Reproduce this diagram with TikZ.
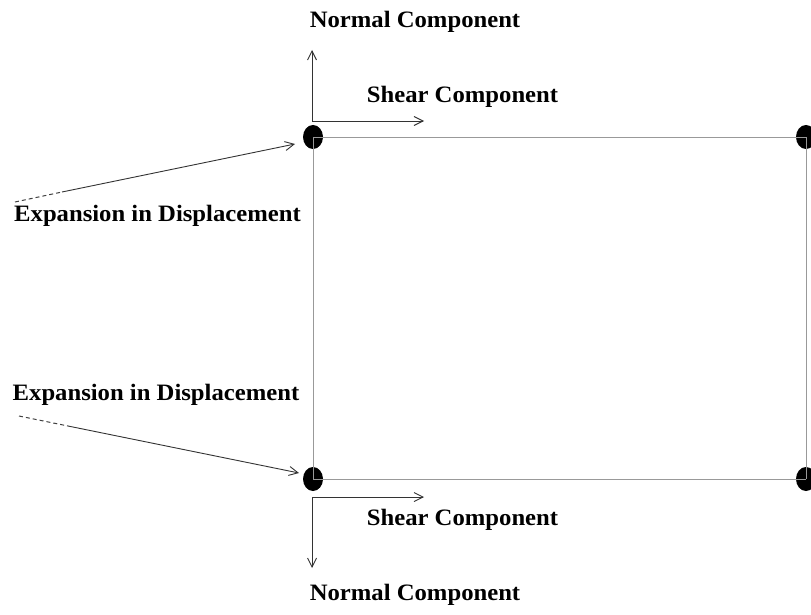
\documentclass[tikz,border=0pt]{standalone}
\usepackage{fontspec}
\setmainfont{Liberation Serif}
\usetikzlibrary{arrows.meta,shapes.geometric}
\begin{document}
\begin{tikzpicture}[x=1pt,y=-1pt,
  joint/.style={ellipse,fill=black,minimum width=20pt,minimum height=24pt,inner sep=0pt},
  frame/.style={draw=black!40,line width=0.9pt},
  comp/.style={draw=black!80,line width=0.9pt,-{Straight Barb[length=9pt,width=9pt]}},
  leadtail/.style={draw=black!75,line width=1pt,dash pattern=on 4pt off 3pt},
  lbl/.style={font=\fontsize{23.5}{28}\selectfont\bfseries,inner sep=0pt,xscale=1.05,transform shape}]
\useasboundingbox (0,0) rectangle (811,615);
% corner joints
\node[joint] (tl) at (313,137) {};
\node[joint] (bl) at (313,479) {};
\node[joint] (tr) at (806,137) {};
\node[joint] (br) at (806,479) {};
% element outline
\draw[frame] (tl.center) -- (tr.center) (bl.center) -- (br.center);
\draw[frame] (tl.center) -- (bl.center) (tr.center) -- (br.center);
% component axes
\coordinate (ct) at (312,121);
\coordinate (cb) at (312,497);
\coordinate (nt) at (312,50);
\coordinate (st) at (424,121);
\coordinate (nb) at (312,568);
\coordinate (sb) at (424,497);
\draw[comp] (ct) -- (nt);
\draw[comp] (ct) -- (st);
\draw[comp] (cb) -- (nb);
\draw[comp] (cb) -- (sb);
% displacement leaders
\coordinate (ea0) at (15,202);
\coordinate (ea1) at (62,192);
\coordinate (ea2) at (295,144);
\coordinate (eb0) at (19,416);
\coordinate (eb1) at (68,426);
\coordinate (eb2) at (299,473);
\draw[leadtail] (ea0) -- (ea1);
\draw[comp] (ea1) -- (ea2);
\draw[leadtail] (eb0) -- (eb1);
\draw[comp] (eb1) -- (eb2);
% labels
\node[lbl,anchor=base] (lnt) at (415,27.3) {Normal Component};
\node[lbl,anchor=base] (lst) at (462.5,102.5) {Shear Component};
\node[lbl,anchor=base] (lsb) at (462.5,525) {Shear Component};
\node[lbl,anchor=base] (lnb) at (415,600.5) {Normal Component};
\node[lbl,anchor=base west] (lea) at (14,221.7) {Expansion in Displacement};
\node[lbl,anchor=base west] (leb) at (12.5,400) {Expansion in Displacement};
\end{tikzpicture}
\end{document}
